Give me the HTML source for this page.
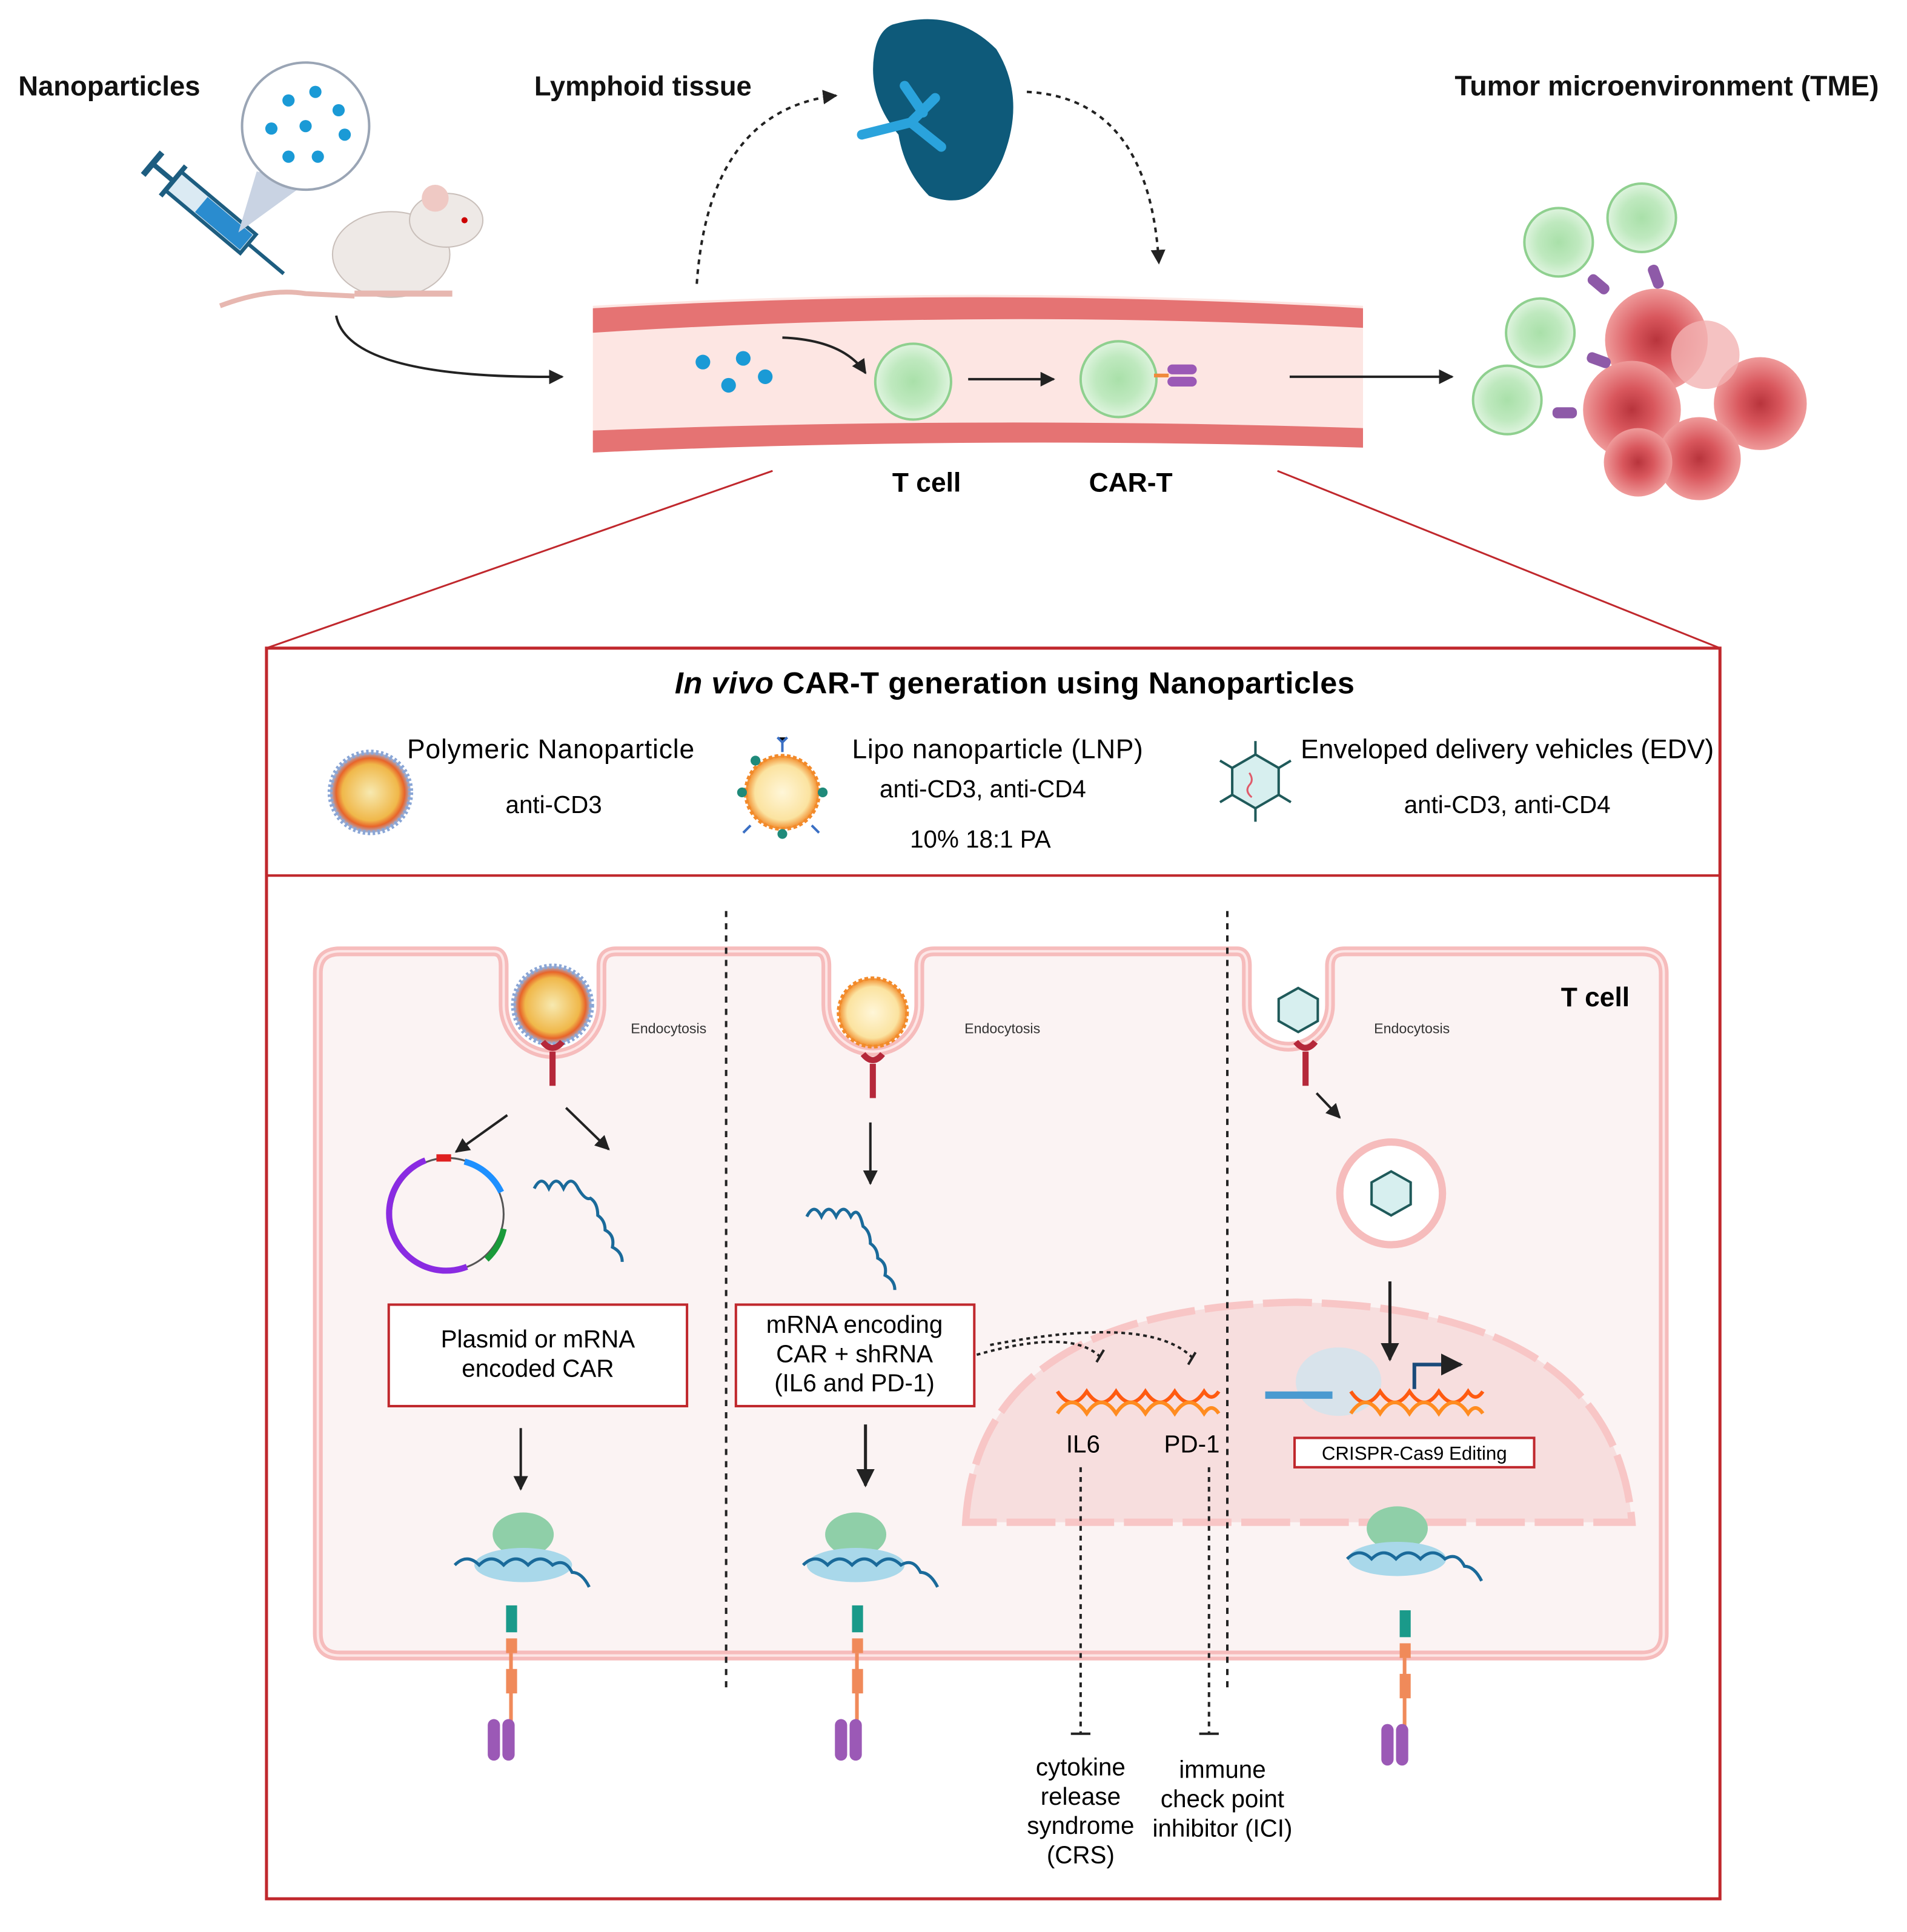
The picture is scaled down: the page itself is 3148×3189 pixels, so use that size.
<!DOCTYPE html>
<html><head><meta charset="utf-8"><style>
html,body{margin:0;padding:0;background:#fff}
svg{display:block}
text{font-family:"Liberation Sans",sans-serif}
</style></head><body>
<svg width="3148" height="3189" viewBox="0 0 1560 1580" xmlns="http://www.w3.org/2000/svg">
<defs>
<marker id="ah" viewBox="0 0 10 10" refX="9" refY="5" markerWidth="6" markerHeight="6" orient="auto"><path d="M0,0 L10,5 L0,10 z" fill="#222"/></marker>
<radialGradient id="np1"><stop offset="0" stop-color="#f7e9b0"/><stop offset="0.7" stop-color="#f0b84a"/><stop offset="0.85" stop-color="#e8642a"/><stop offset="1" stop-color="#9fb8e0"/></radialGradient>
<radialGradient id="np2"><stop offset="0" stop-color="#fff6d8"/><stop offset="0.75" stop-color="#fbe3a0"/><stop offset="1" stop-color="#f28a2a"/></radialGradient>
<radialGradient id="tc"><stop offset="0" stop-color="#a9e0a9"/><stop offset="0.6" stop-color="#bfe9bf"/><stop offset="1" stop-color="#dff4df"/></radialGradient>
<radialGradient id="tu"><stop offset="0" stop-color="#b8343c"/><stop offset="0.45" stop-color="#d9575d"/><stop offset="1" stop-color="#ef9a9a"/></radialGradient>
</defs>

<text x="15" y="78" font-size="22.5" font-weight="bold" fill="#111">Nanoparticles</text>
<text x="437" y="78" font-size="22.5" font-weight="bold" fill="#111">Lymphoid tissue</text>
<text x="1190" y="78" font-size="23" font-weight="bold" fill="#111" textLength="347">Tumor microenvironment (TME)</text>

<g transform="translate(180,180) rotate(40)">
<rect x="-50" y="-10" width="80" height="20" fill="#dbeaf3" stroke="#1d5d80" stroke-width="3"/>
<rect x="-20" y="-8" width="48" height="16" fill="#2a8ccf"/>
<line x1="30" y1="0" x2="68" y2="0" stroke="#1d5d80" stroke-width="3"/>
<line x1="-50" y1="0" x2="-72" y2="0" stroke="#1d5d80" stroke-width="4"/>
<line x1="-72" y1="-12" x2="-72" y2="12" stroke="#1d5d80" stroke-width="5"/>
<line x1="-50" y1="-16" x2="-50" y2="16" stroke="#1d5d80" stroke-width="4"/>
</g>
<polygon points="195,190 210,140 250,150" fill="#c9d3e3"/>
<circle cx="250" cy="103" r="52" fill="#fff" stroke="#9aa5b5" stroke-width="2"/>
<g fill="#1a9ad6"><circle cx="236" cy="82" r="5"/><circle cx="258" cy="75" r="5"/><circle cx="277" cy="90" r="5"/><circle cx="222" cy="105" r="5"/><circle cx="250" cy="103" r="5"/><circle cx="282" cy="110" r="5"/><circle cx="236" cy="128" r="5"/><circle cx="260" cy="128" r="5"/></g>
<path d="M180,250 Q220,235 250,240 L290,242" stroke="#e7b7b0" stroke-width="4" fill="none"/>
<ellipse cx="320" cy="208" rx="48" ry="35" fill="#eee9e6" stroke="#c9bfba"/>
<ellipse cx="365" cy="180" rx="30" ry="22" fill="#eee9e6" stroke="#c9bfba"/>
<circle cx="356" cy="162" r="11" fill="#efc9c4"/>
<circle cx="380" cy="180" r="2.5" fill="#c00"/>
<path d="M290,240 L370,240" stroke="#e7b7b0" stroke-width="5"/>

<path d="M275,258 Q285,310 460,308" stroke="#222" stroke-width="2" fill="none" marker-end="url(#ah)"/>

<path d="M730,20 Q780,5 815,40 Q840,80 820,130 Q800,175 760,160 Q740,140 735,110 Q710,80 715,45 Q718,25 730,20z" fill="#0e5a7a"/>
<path d="M705,110 L745,100 L765,80 M745,100 L770,120 M755,92 L740,70" stroke="#2aa3dc" stroke-width="8" fill="none" stroke-linecap="round"/>

<path d="M570,232 Q580,90 684,78" stroke="#222" stroke-width="2" stroke-dasharray="4,4" fill="none" marker-end="url(#ah)"/>
<path d="M840,75 Q940,80 948,215" stroke="#222" stroke-width="2" stroke-dasharray="4,4" fill="none" marker-end="url(#ah)"/>

<path d="M485,250 Q800,232 1115,250 L1115,365 Q800,352 485,368 z" fill="#fde6e3"/>
<path d="M485,252 Q800,234 1115,252 L1115,268 Q800,252 485,272 z" fill="#e57373"/>
<path d="M485,352 Q800,340 1115,350 L1115,366 Q800,356 485,370 z" fill="#e57373"/>
<g fill="#1a9ad6"><circle cx="575" cy="296" r="6"/><circle cx="608" cy="293" r="6"/><circle cx="596" cy="315" r="6"/><circle cx="626" cy="308" r="6"/></g>
<path d="M640,276 Q690,278 708,305" stroke="#222" stroke-width="2" fill="none" marker-end="url(#ah)"/>
<circle cx="747" cy="312" r="31" fill="url(#tc)" stroke="#8fd08f" stroke-width="2"/>
<line x1="792" y1="310" x2="862" y2="310" stroke="#222" stroke-width="2" marker-end="url(#ah)"/>
<circle cx="915" cy="310" r="31" fill="url(#tc)" stroke="#8fd08f" stroke-width="2"/>
<rect x="955" y="298" width="24" height="8" rx="4" fill="#9b59b6"/><rect x="955" y="308" width="24" height="8" rx="4" fill="#9b59b6"/>
<line x1="944" y1="307" x2="956" y2="307" stroke="#f08a3c" stroke-width="3"/>
<text x="758" y="402" font-size="22" font-weight="bold" text-anchor="middle">T cell</text>
<text x="925" y="402" font-size="22" font-weight="bold" text-anchor="middle">CAR-T</text>
<line x1="1055" y1="308" x2="1188" y2="308" stroke="#222" stroke-width="2" marker-end="url(#ah)"/>

<g>
<circle cx="1275" cy="198" r="28" fill="url(#tc)" stroke="#8fd08f" stroke-width="2"/>
<circle cx="1343" cy="178" r="28" fill="url(#tc)" stroke="#8fd08f" stroke-width="2"/>
<circle cx="1260" cy="272" r="28" fill="url(#tc)" stroke="#8fd08f" stroke-width="2"/>
<circle cx="1233" cy="327" r="28" fill="url(#tc)" stroke="#8fd08f" stroke-width="2"/>
<circle cx="1355" cy="278" r="42" fill="url(#tu)"/>
<circle cx="1335" cy="335" r="40" fill="url(#tu)"/>
<circle cx="1440" cy="330" r="38" fill="url(#tu)"/>
<circle cx="1390" cy="375" r="34" fill="url(#tu)"/>
<circle cx="1340" cy="378" r="28" fill="url(#tu)"/>
<circle cx="1395" cy="290" r="28" fill="#f3b3b3" opacity="0.8"/>
<g fill="#8e5aa8"><rect x="1298" y="228" width="20" height="9" rx="4" transform="rotate(40 1308 232)"/><rect x="1345" y="222" width="20" height="9" rx="4" transform="rotate(70 1355 226)"/><rect x="1298" y="290" width="20" height="9" rx="4" transform="rotate(20 1308 294)"/><rect x="1270" y="333" width="20" height="9" rx="4"/></g>
</g>

<line x1="632" y1="385" x2="218" y2="530" stroke="#c0282d" stroke-width="1.5"/>
<line x1="1045" y1="385" x2="1407" y2="530" stroke="#c0282d" stroke-width="1.5"/>

<rect x="218" y="530" width="1189" height="1023" fill="#fff" stroke="#c0282d" stroke-width="2.5"/>
<line x1="218" y1="716" x2="1407" y2="716" stroke="#c0282d" stroke-width="2"/>
<text x="830" y="567" font-size="25" font-weight="bold" text-anchor="middle" textLength="556"><tspan font-style="italic">In vivo</tspan> CAR-T generation using Nanoparticles</text>

<circle cx="303" cy="648" r="33" fill="url(#np1)" stroke="#8aa6d6" stroke-width="4" stroke-dasharray="2,2"/>
<text x="333" y="620" font-size="22" textLength="235">Polymeric Nanoparticle</text>
<text x="453" y="665" font-size="20" text-anchor="middle">anti-CD3</text>
<circle cx="640" cy="648" r="30" fill="url(#np2)" stroke="#f28a2a" stroke-width="3" stroke-dasharray="3,2"/>
<g fill="#1f8a7a"><circle cx="607" cy="648" r="4"/><circle cx="673" cy="648" r="4"/><circle cx="640" cy="682" r="4"/><circle cx="618" cy="622" r="4"/></g>
<g stroke="#3a6fc4" stroke-width="2"><path d="M640,615 v-8 m-4,-4 l4,4 l4,-4"/><path d="M664,675 l6,6"/><path d="M614,675 l-6,6"/></g>
<text x="697" y="620" font-size="22" textLength="238">Lipo nanoparticle (LNP)</text>
<text x="804" y="652" font-size="20" text-anchor="middle">anti-CD3, anti-CD4</text>
<text x="802" y="693" font-size="20" text-anchor="middle">10% 18:1 PA</text>
<polygon points="1027,617 1046,628 1046,650 1027,661 1008,650 1008,628" fill="#d7efef" stroke="#1f5a5a" stroke-width="2"/>
<g stroke="#1f5a5a" stroke-width="2"><line x1="1027" y1="617" x2="1027" y2="606"/><line x1="1046" y1="628" x2="1056" y2="622"/><line x1="1046" y1="650" x2="1056" y2="656"/><line x1="1027" y1="661" x2="1027" y2="672"/><line x1="1008" y1="650" x2="998" y2="656"/><line x1="1008" y1="628" x2="998" y2="622"/></g>
<path d="M1022,632 q4,6 0,10 q-4,5 2,10" stroke="#e05a6a" fill="none" stroke-width="1.5"/>
<text x="1064" y="620" font-size="22" textLength="338">Enveloped delivery vehicles (EDV)</text>
<text x="1233" y="665" font-size="20" text-anchor="middle">anti-CD3, anti-CD4</text>

<path d="M278,778 L404,778 Q412,778 412,790 L412,822 A40,40 0 0 0 492,822 L492,790 Q492,778 504,778 L668,778 Q676,778 676,790 L676,822 A38,38 0 0 0 752,822 L752,790 Q752,778 764,778 L1012,778 Q1020,778 1020,790 L1020,822 A34,34 0 0 0 1088,822 L1088,790 Q1088,778 1100,778 L1343,778 Q1361,778 1361,796 L1361,1336 Q1361,1354 1343,1354 L278,1354 Q260,1354 260,1336 L260,796 Q260,778 278,778 z" fill="#fbf3f3" stroke="#f6bcbc" stroke-width="8"/>
<path d="M278,778 L404,778 Q412,778 412,790 L412,822 A40,40 0 0 0 492,822 L492,790 Q492,778 504,778 L668,778 Q676,778 676,790 L676,822 A38,38 0 0 0 752,822 L752,790 Q752,778 764,778 L1012,778 Q1020,778 1020,790 L1020,822 A34,34 0 0 0 1088,822 L1088,790 Q1088,778 1100,778 L1343,778 Q1361,778 1361,796 L1361,1336 Q1361,1354 1343,1354 L278,1354 Q260,1354 260,1336 L260,796 Q260,778 278,778 z" fill="none" stroke="#fde6e6" stroke-width="2"/>
<text x="1305" y="823" font-size="22" font-weight="bold" text-anchor="middle">T cell</text>

<path d="M790,1245 Q800,1070 1060,1065 Q1320,1070 1335,1245 z" fill="#f7dede" stroke="#f8c6c6" stroke-width="6" stroke-dasharray="40,8"/>

<line x1="594" y1="745" x2="594" y2="1385" stroke="#222" stroke-width="2" stroke-dasharray="5,5"/>
<line x1="1004" y1="745" x2="1004" y2="1385" stroke="#222" stroke-width="2" stroke-dasharray="5,5"/>

<circle cx="452" cy="822" r="32" fill="url(#np1)" stroke="#8aa6d6" stroke-width="4" stroke-dasharray="2,2"/>
<circle cx="714" cy="828" r="28" fill="url(#np2)" stroke="#f28a2a" stroke-width="3" stroke-dasharray="3,2"/>
<polygon points="1062,808 1078,817 1078,835 1062,844 1046,835 1046,817" fill="#d7efef" stroke="#1f5a5a" stroke-width="2"/>
<g font-size="11.5" fill="#333"><text x="516" y="845">Endocytosis</text><text x="789" y="845">Endocytosis</text><text x="1124" y="845">Endocytosis</text></g>
<g stroke="#b5283a" stroke-width="5" fill="none"><path d="M444,852 q8,10 16,0 M452,860 v28"/><path d="M706,862 q8,10 16,0 M714,870 v28"/><path d="M1060,852 q8,10 16,0 M1068,860 v28"/></g>

<line x1="415" y1="912" x2="373" y2="942" stroke="#222" stroke-width="2" marker-end="url(#ah)"/>
<line x1="463" y1="906" x2="498" y2="940" stroke="#222" stroke-width="2" marker-end="url(#ah)"/>
<circle cx="366" cy="993" r="46" fill="none" stroke="#555" stroke-width="1.5"/>
<path d="M348,949 A46,46 0 0 0 382,1036" stroke="#8a2be2" stroke-width="5" fill="none"/>
<path d="M380,950 A46,46 0 0 1 410,975" stroke="#1e90ff" stroke-width="5" fill="none"/>
<path d="M412,1005 A46,46 0 0 1 398,1030" stroke="#1a9a3a" stroke-width="5" fill="none"/>
<rect x="357" y="944" width="12" height="6" fill="#e02020"/>
<path d="M437,972 q6,-12 12,0 q6,-12 12,0 q6,-12 12,0 q6,10 10,8 q6,4 6,14 q6,4 6,12 q8,4 6,14 q8,4 8,12" stroke="#1a6a9a" stroke-width="2.5" fill="none"/>
<rect x="318" y="1067" width="244" height="83" fill="#fff" stroke="#c0282d" stroke-width="2"/>
<text x="440" y="1102" font-size="20" text-anchor="middle">Plasmid or mRNA</text>
<text x="440" y="1126" font-size="20" text-anchor="middle">encoded CAR</text>
<line x1="426" y1="1168" x2="426" y2="1218" stroke="#222" stroke-width="2" marker-end="url(#ah)"/>

<line x1="712" y1="918" x2="712" y2="968" stroke="#222" stroke-width="2" marker-end="url(#ah)"/>
<path d="M660,995 q6,-12 12,0 q6,-12 12,0 q6,-12 12,0 q6,-10 10,8 q6,4 6,14 q6,4 6,12 q8,4 6,14 q8,4 8,12" stroke="#1a6a9a" stroke-width="2.5" fill="none"/>
<rect x="602" y="1067" width="195" height="83" fill="#fff" stroke="#c0282d" stroke-width="2"/>
<text x="699" y="1090" font-size="20" text-anchor="middle">mRNA encoding</text>
<text x="699" y="1114" font-size="20" text-anchor="middle">CAR + shRNA</text>
<text x="699" y="1138" font-size="20" text-anchor="middle">(IL6 and PD-1)</text>
<line x1="708" y1="1165" x2="708" y2="1215" stroke="#222" stroke-width="2.5" marker-end="url(#ah)"/>
<path d="M799,1108 Q880,1085 902,1112" stroke="#222" stroke-width="2" stroke-dasharray="3,3" fill="none"/>
<path d="M810,1100 Q940,1075 975,1110" stroke="#222" stroke-width="2" stroke-dasharray="3,3" fill="none"/>
<line x1="897" y1="1114" x2="903" y2="1104" stroke="#222" stroke-width="2"/>
<line x1="972" y1="1116" x2="978" y2="1106" stroke="#222" stroke-width="2"/>
<path d="M865,1138 q12,18 24,0 q12,18 24,0 q12,18 24,0 q12,18 24,0 q12,18 24,0 q6,9 12,0" stroke="#ff5a10" stroke-width="3" fill="none"/>
<path d="M865,1156 q12,-18 24,0 q12,-18 24,0 q12,-18 24,0 q12,-18 24,0 q12,-18 24,0 q6,-9 12,0" stroke="#ff8c20" stroke-width="3" fill="none"/>
<text x="886" y="1188" font-size="20" text-anchor="middle">IL6</text>
<text x="975" y="1188" font-size="20" text-anchor="middle">PD-1</text>
<line x1="884" y1="1200" x2="884" y2="1418" stroke="#222" stroke-width="2" stroke-dasharray="4,4"/>
<line x1="876" y1="1418" x2="892" y2="1418" stroke="#222" stroke-width="2"/>
<line x1="989" y1="1200" x2="989" y2="1418" stroke="#222" stroke-width="2" stroke-dasharray="4,4"/>
<line x1="981" y1="1418" x2="997" y2="1418" stroke="#222" stroke-width="2"/>
<g font-size="20" text-anchor="middle"><text x="884" y="1452">cytokine</text><text x="884" y="1476">release</text><text x="884" y="1500">syndrome</text><text x="884" y="1524">(CRS)</text>
<text x="1000" y="1454">immune</text><text x="1000" y="1478">check point</text><text x="1000" y="1502">inhibitor (ICI)</text></g>

<line x1="1077" y1="894" x2="1096" y2="914" stroke="#222" stroke-width="2" marker-end="url(#ah)"/>
<circle cx="1138" cy="976" r="42" fill="#fff" stroke="#f6bcbc" stroke-width="6"/>
<polygon points="1138,958 1154,967 1154,985 1138,994 1122,985 1122,967" fill="#d7efef" stroke="#1f5a5a" stroke-width="2"/>
<line x1="1137" y1="1048" x2="1137" y2="1112" stroke="#222" stroke-width="2.5" marker-end="url(#ah)"/>
<ellipse cx="1095" cy="1130" rx="35" ry="28" fill="#cfe4ee" opacity="0.8"/>
<line x1="1035" y1="1141" x2="1090" y2="1141" stroke="#4a9ad0" stroke-width="6"/>
<path d="M1105,1138 q12,18 24,0 q12,18 24,0 q12,18 24,0 q12,18 24,0 q6,9 12,0" stroke="#ff5a10" stroke-width="3" fill="none"/>
<path d="M1105,1156 q12,-18 24,0 q12,-18 24,0 q12,-18 24,0 q12,-18 24,0 q6,-9 12,0" stroke="#ff8c20" stroke-width="3" fill="none"/>
<path d="M1157,1136 v-20 h38" stroke="#1a4a7a" stroke-width="3" fill="none" marker-end="url(#ah)"/>
<rect x="1059" y="1176" width="196" height="24" fill="#fff" stroke="#c0282d" stroke-width="2"/>
<text x="1157" y="1194" font-size="15.5" text-anchor="middle">CRISPR-Cas9 Editing</text>

<g>
<ellipse cx="428" cy="1255" rx="25" ry="18" fill="#8fcfa8"/><ellipse cx="428" cy="1280" rx="40" ry="14" fill="#a9d8ea"/>
<path d="M372,1280 q10,-10 20,0 q10,-10 20,0 q10,-10 20,0 q10,-10 20,0 q10,-6 16,6 q8,0 14,12" stroke="#1a6a9a" stroke-width="2.5" fill="none"/>
<ellipse cx="700" cy="1255" rx="25" ry="18" fill="#8fcfa8"/><ellipse cx="700" cy="1280" rx="40" ry="14" fill="#a9d8ea"/>
<path d="M657,1280 q10,-10 20,0 q10,-10 20,0 q10,-10 20,0 q10,-10 20,0 q10,-6 16,6 q8,0 14,12" stroke="#1a6a9a" stroke-width="2.5" fill="none"/>
<ellipse cx="1143" cy="1250" rx="25" ry="18" fill="#8fcfa8"/><ellipse cx="1143" cy="1275" rx="40" ry="14" fill="#a9d8ea"/>
<path d="M1102,1275 q10,-10 20,0 q10,-10 20,0 q10,-10 20,0 q10,-10 20,0 q10,-6 16,6 q8,0 14,12" stroke="#1a6a9a" stroke-width="2.5" fill="none"/>
</g>
<g>
<rect x="414" y="1313" width="9" height="22" fill="#1a9a8a"/><rect x="414" y="1340" width="9" height="12" fill="#f08a5a"/><line x1="418" y1="1352" x2="418" y2="1410" stroke="#f08a5a" stroke-width="3"/><rect x="414" y="1365" width="9" height="20" fill="#f08a5a"/>
<rect x="399" y="1406" width="10" height="34" rx="5" fill="#9b59b6"/><rect x="411" y="1406" width="10" height="34" rx="5" fill="#9b59b6"/>
<rect x="697" y="1313" width="9" height="22" fill="#1a9a8a"/><rect x="697" y="1340" width="9" height="12" fill="#f08a5a"/><line x1="701" y1="1352" x2="701" y2="1410" stroke="#f08a5a" stroke-width="3"/><rect x="697" y="1365" width="9" height="20" fill="#f08a5a"/>
<rect x="683" y="1406" width="10" height="34" rx="5" fill="#9b59b6"/><rect x="695" y="1406" width="10" height="34" rx="5" fill="#9b59b6"/>
<rect x="1145" y="1317" width="9" height="22" fill="#1a9a8a"/><rect x="1145" y="1344" width="9" height="12" fill="#f08a5a"/><line x1="1149" y1="1356" x2="1149" y2="1414" stroke="#f08a5a" stroke-width="3"/><rect x="1145" y="1369" width="9" height="20" fill="#f08a5a"/>
<rect x="1130" y="1410" width="10" height="34" rx="5" fill="#9b59b6"/><rect x="1142" y="1410" width="10" height="34" rx="5" fill="#9b59b6"/>
</g>
</svg>
</body></html>
